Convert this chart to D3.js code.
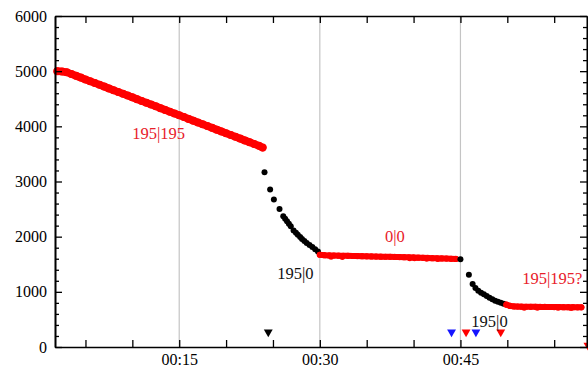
<!DOCTYPE html>
<html>
<head>
<meta charset="utf-8">
<script src="https://cdn.jsdelivr.net/npm/d3@7"></script>
<style>
  html, body { margin: 0; padding: 0; background: #fff; }
  svg { display: block; }
</style>
</head>
<body>
<svg id="chart" width="588" height="369"></svg>
<script>
// ---------- data (minutes since start, value) ----------
const redPhase1 = [
  [2.0,5000],[2.5,4995],[3.0,4980],[3.5,4948],[4.0,4915],[4.5,4883],[5.0,4850],[5.5,4818],
  [6.0,4785],[6.5,4753],[7.0,4720],[7.5,4688],[8.0,4655],[8.5,4623],[9.0,4590],[9.5,4558],
  [10.0,4525],[10.5,4493],[11.0,4460],[11.5,4428],[12.0,4395],[12.5,4363],[13.0,4330],[13.5,4298],
  [14.0,4265],[14.5,4233],[15.0,4200],[15.5,4168],[16.0,4135],[16.5,4103],[17.0,4070],[17.5,4038],
  [18.0,4005],[18.5,3973],[19.0,3940],[19.5,3908],[20.0,3875],[20.5,3843],[21.0,3810],[21.5,3778],
  [22.0,3745],[22.5,3713],[23.0,3680],[23.5,3648],[23.9,3615]
];
const blackPhase1 = [
  [24.1,3169],[24.7,2855],[25.1,2673],[25.7,2503],[26.1,2370],[26.3,2325],[26.5,2280],[26.7,2235],
  [26.9,2190],[27.2,2110],[27.45,2070],[27.65,2036],[27.9,1995],[28.1,1958],[28.35,1920],[28.6,1885],
  [28.9,1850],[29.2,1813],[29.5,1773],[29.8,1733]
];
const redPhase2 = [
  [30.0,1672],[30.5,1664],[31.0,1660],[31.5,1658],[32.0,1656],[32.5,1654],[33.0,1652],[33.5,1650],
  [34.0,1648],[34.5,1646],[35.0,1644],[35.5,1642],[36.0,1640],[36.5,1638],[37.0,1636],[37.5,1634],
  [38.0,1632],[38.5,1630],[39.0,1628],[39.5,1626],[40.0,1623],[40.5,1620],[41.0,1617],[41.5,1614],
  [42.0,1611],[42.5,1608],[43.0,1605],[43.5,1602],[44.0,1599],[44.5,1596]
];
const redPhase2Stray = [[31.2,1625],[32.4,1622],[39.6,1598],[40.1,1600],[41.4,1592],[42.6,1588]];
const blackPhase2 = [
  [45.0,1590],[45.9,1310],[46.3,1140],[46.6,1070],[46.9,1020],[47.2,985],[47.5,955],[47.8,925],
  [48.1,895],[48.4,865],[48.7,840],[49.0,818],[49.3,800],[49.6,785]
];
const redPhase3 = [
  [49.9,768],[50.3,745],[50.7,736],[51.1,733],[51.5,731],[52.0,730],[52.5,729],[53.0,728],
  [53.5,727],[54.0,726],[54.5,725],[55.0,724],[55.5,723],[56.0,722],[56.5,722],[57.0,721],
  [57.5,720],[57.9,720]
];
const redPhase3Stray = [[51.8,702],[53.2,704],[55.4,703],[56.8,700]];
// event markers: [minute, value, colour]
const markers = [
  [24.5,270,"#000"],[44.05,270,"#1515ff"],[45.6,270,"#ff0000"],
  [46.65,270,"#1515ff"],[49.3,270,"#ff0000"],[58.6,30,"#ff0000"]
];
// annotations: [minute, value, text, colour]
const labels = [
  [12.8,3830,"195|195","#e8202a"],
  [27.4,1305,"195|0","#111"],
  [38.0,1965,"0|0","#e8202a"],
  [54.8,1215,"195|195?","#e8202a"],
  [48.1,435,"195|0","#111"]
];
const xTickValues = [5,10,15,20,25,30,35,40,45,50,55];
const xLabelled = {15:"00:15", 30:"00:30", 45:"00:45"};
const yMajor = [0,1000,2000,3000,4000,5000,6000];
const yMinor = d3.range(0, 6001, 200);
const gridMinutes = [15,30,45];

// ---------- layout ----------
const svg = d3.select("#chart");
const L = 55, R = 587, T = 16, B = 347;
const x = d3.scaleLinear().domain([1.75, 58.5]).range([L, R]);
const y = d3.scaleLinear().domain([0, 6000]).range([B, T]);
const font = "'Liberation Serif', 'Times New Roman', serif";

// grid
svg.append("g").selectAll("line").data(gridMinutes).join("line")
  .attr("x1", d => x(d)).attr("x2", d => x(d))
  .attr("y1", T).attr("y2", B)
  .attr("stroke", "#c4c4c4").attr("stroke-width", 1.2);

// points
const line = d3.line().x(d => x(d[0])).y(d => y(d[1]));
function drawBand(data, color, w) {
  svg.append("path").datum(data).attr("d", line)
    .attr("fill", "none").attr("stroke", color).attr("stroke-width", w)
    .attr("stroke-linecap", "round").attr("stroke-linejoin", "round");
}
function drawPts(data, color, r) {
  svg.append("g").selectAll("circle").data(data).join("circle")
    .attr("cx", d => x(d[0])).attr("cy", d => y(d[1]))
    .attr("r", r).attr("fill", color);
}
drawBand(redPhase1, "#ff0000", 7.6);
drawPts(redPhase1, "#ff0000", 4.0);
drawPts(blackPhase1, "#000", 3.0);
drawBand(redPhase2, "#ff0000", 6.0);
drawPts(redPhase2, "#ff0000", 3.1);
drawPts(redPhase2Stray, "#ff0000", 2.5);
drawPts(blackPhase2, "#000", 3.0);
drawBand(redPhase3, "#ff0000", 6.0);
drawPts(redPhase3, "#ff0000", 3.1);
drawPts(redPhase3Stray, "#ff0000", 2.5);

// markers
svg.append("g").selectAll("path").data(markers).join("path")
  .attr("d", d3.symbol(d3.symbolTriangle, 34))
  .attr("transform", d => `translate(${x(d[0])},${y(d[1])}) rotate(180)`)
  .attr("fill", d => d[2]);

// labels
svg.append("g").selectAll("text").data(labels).join("text")
  .attr("x", d => x(d[0])).attr("y", d => y(d[1]))
  .attr("text-anchor", "middle").attr("dominant-baseline", "middle")
  .attr("font-family", font).attr("font-size", 16.5)
  .attr("fill", d => d[3]).text(d => d[2]);

// axes
function styleAxis(g) {
  g.select(".domain").attr("stroke", "#000").attr("stroke-width", 1.6);
  g.selectAll(".tick line").attr("stroke", "#000").attr("stroke-width", 1.3);
  g.selectAll("text").attr("font-family", font).attr("font-size", 16).attr("fill", "#000");
}
// bottom
svg.append("g").attr("transform", `translate(0,${B})`)
  .call(d3.axisBottom(x).tickValues(xTickValues).tickSizeInner(-7).tickSizeOuter(0)
    .tickPadding(7).tickFormat(d => xLabelled[d] || ""))
  .call(styleAxis);
// top
svg.append("g").attr("transform", `translate(0,${T})`)
  .call(d3.axisTop(x).tickValues(xTickValues).tickSizeInner(-7).tickSizeOuter(0).tickFormat(""))
  .call(styleAxis);
// left minor
svg.append("g").attr("transform", `translate(${L},0)`)
  .call(d3.axisLeft(y).tickValues(yMinor.filter(v => v % 1000)).tickSizeInner(-4).tickSizeOuter(0).tickFormat(""))
  .call(styleAxis);
// left major
svg.append("g").attr("transform", `translate(${L},0)`)
  .call(d3.axisLeft(y).tickValues(yMajor).tickSizeInner(-7).tickSizeOuter(0).tickPadding(8).tickFormat(d3.format("d")))
  .call(styleAxis);
// right minor / major
svg.append("g").attr("transform", `translate(${R},0)`)
  .call(d3.axisRight(y).tickValues(yMinor.filter(v => v % 1000)).tickSizeInner(-4).tickSizeOuter(0).tickFormat(""))
  .call(styleAxis);
svg.append("g").attr("transform", `translate(${R},0)`)
  .call(d3.axisRight(y).tickValues(yMajor).tickSizeInner(-7).tickSizeOuter(0).tickFormat(""))
  .call(styleAxis);
</script>
</body>
</html>
